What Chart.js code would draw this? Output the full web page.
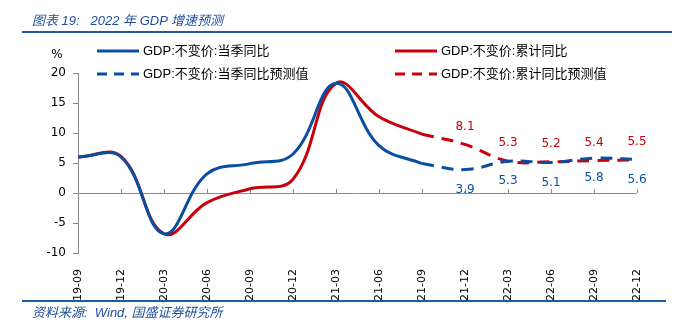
<!DOCTYPE html>
<html>
<head>
<meta charset="utf-8">
<script src="https://cdn.jsdelivr.net/npm/chart.js@4/dist/chart.umd.min.js"></script>
<style>
  html, body { margin: 0; padding: 0; background: #fff; }
  #wrap { position: relative; width: 678px; height: 330px; }
  #myChart { position: absolute; left: 0; top: 0; }
  .cap { position: absolute; color: #1f4e9a; font-style: italic; font-family: "Liberation Sans", "Noto Sans CJK SC", sans-serif; white-space: pre; }
  #title { left: 32px; top: 10px; font-size: 13px; }
  #src { left: 32px; top: 302px; font-size: 13px; }
  .rule { position: absolute; left: 22px; height: 2px; background: #1f5aa6; }
</style>
</head>
<body>
<div id="wrap">
  <canvas id="myChart" width="678" height="330"></canvas>
  <div id="title" class="cap">图表 19:   2022 年 GDP 增速预测</div>
  <div class="rule" style="top:31px; width:650px;"></div>
  <div class="rule" style="top:300px; width:644px;"></div>
  <div id="src" class="cap">资料来源:  Wind, 国盛证券研究所</div>
</div>
<script>
const ctx = document.getElementById('myChart');

// quarters
const labels = ['19-09', '19-12', '20-03', '20-06', '20-09', '20-12', '21-03',
  '21-06', '21-09', '21-12', '22-03', '22-06', '22-09', '22-12'];

// actual values (to 21-09)
const quarterly = [6.0, 6.0, -6.8, 3.2, 4.9, 6.5, 18.3, 7.9, 4.9];
const cumulative = [6.0, 6.1, -6.8, -1.6, 0.7, 2.3, 18.3, 12.7, 9.8];

// forecasts (21-12 .. 22-12), joined to the last actual
const quarterlyFc = [3.9, 5.3, 5.1, 5.8, 5.6];
const cumulativeFc = [8.1, 5.3, 5.2, 5.4, 5.5];

const yTicks = [-10, -5, 0, 5, 10, 15, 20];

const BLUE = '#0a4ea2';
const RED = '#c8000a';
const GREY = '#8c8c8c';
const FONT = '"DejaVu Sans", sans-serif';
const LEGEND_FONT = '"Liberation Sans", "Noto Sans CJK SC", sans-serif';

const split = quarterly.length - 1;
const pad = (arr, n) => arr.concat(Array(n).fill(null));
const lead = (arr, last) => Array(split).fill(null).concat([last], arr);

// axis line at zero with small upward ticks, plus the % unit
const axisDecor = {
  id: 'axisDecor',
  beforeDatasetsDraw(chart) {
    const { ctx, scales: { x, y } } = chart;
    const y0 = y.getPixelForValue(0);
    ctx.save();
    ctx.strokeStyle = GREY;
    ctx.lineWidth = 1;
    ctx.beginPath();
    ctx.moveTo(x.left, Math.round(y0) + 0.5);
    ctx.lineTo(x.right, Math.round(y0) + 0.5);
    labels.forEach((_, i) => {
      if (i === 0) return;
      const px = Math.round(x.getPixelForValue(i)) + 0.5;
      ctx.moveTo(px, y0);
      ctx.lineTo(px, y0 - 4);
    });
    ctx.stroke();
    ctx.fillStyle = '#000';
    ctx.font = '12px ' + FONT;
    ctx.textAlign = 'center';
    ctx.textBaseline = 'middle';
    ctx.fillText('%', 57, 55);
    ctx.restore();
  }
};

// value labels on the forecast points
const valueLabels = {
  id: 'valueLabels',
  afterDatasetsDraw(chart) {
    const { ctx } = chart;
    ctx.save();
    ctx.font = '12px ' + FONT;
    ctx.textAlign = 'center';
    ctx.textBaseline = 'middle';
    [[2, quarterlyFc, 20], [3, cumulativeFc, -18]].forEach(([di, vals, dy]) => {
      const meta = chart.getDatasetMeta(di);
      ctx.fillStyle = chart.data.datasets[di].borderColor;
      vals.forEach((v, i) => {
        const pt = meta.data[split + 1 + i];
        ctx.fillText(v.toFixed(1), pt.x, pt.y + dy);
      });
    });
    ctx.restore();
  }
};

// two-column legend at the top
const topLegend = {
  id: 'topLegend',
  afterDraw(chart) {
    const { ctx } = chart;
    const spots = [[97, 51], [395, 51], [97, 74], [395, 74]];
    ctx.save();
    ctx.font = '13px ' + LEGEND_FONT;
    ctx.textBaseline = 'middle';
    chart.data.datasets.forEach((ds, k) => {
      const [lx, ly] = spots[k];
      ctx.strokeStyle = ds.borderColor;
      ctx.lineWidth = 3;
      ctx.setLineDash(ds.borderDash ? [10, 7] : []);
      ctx.beginPath();
      ctx.moveTo(lx, ly);
      ctx.lineTo(lx + 42, ly);
      ctx.stroke();
      ctx.fillStyle = '#000';
      ctx.fillText(ds.label, lx + 46, ly);
    });
    ctx.restore();
  }
};

new Chart(ctx, {
  type: 'line',
  data: {
    labels: labels,
    datasets: [
      { label: 'GDP:不变价:当季同比', data: pad(quarterly, quarterlyFc.length), borderColor: BLUE },
      { label: 'GDP:不变价:累计同比', data: pad(cumulative, cumulativeFc.length), borderColor: RED },
      { label: 'GDP:不变价:当季同比预测值', data: lead(quarterlyFc, quarterly[split]), borderColor: BLUE, borderDash: [12, 8] },
      { label: 'GDP:不变价:累计同比预测值', data: lead(cumulativeFc, cumulative[split]), borderColor: RED, borderDash: [12, 8] }
    ]
  },
  options: {
    responsive: false,
    animation: false,
    layout: { padding: { left: 0, right: 41, top: 73, bottom: 27 } },
    elements: {
      line: { borderWidth: 3, tension: 0.4, fill: false },
      point: { radius: 0 }
    },
    plugins: { legend: { display: false }, tooltip: { enabled: false } },
    scales: {
      x: {
        grid: { display: false },
        border: { display: false },
        ticks: {
          autoSkip: false, minRotation: 90, maxRotation: 90, padding: 8,
          color: '#000', font: { family: FONT, size: 11 }
        },
        afterFit(scale) { scale.height = 50; }
      },
      y: {
        min: -10, max: 20,
        afterBuildTicks(scale) { scale.ticks = yTicks.map(v => ({ value: v })); },
        grid: { drawOnChartArea: false, tickLength: 5, color: GREY },
        border: { display: true, color: GREY, width: 1 },
        ticks: { padding: 7, color: '#000', font: { family: FONT, size: 12 } },
        afterFit(scale) { scale.width = 78; }
      }
    }
  },
  plugins: [axisDecor, valueLabels, topLegend]
});
</script>
</body>
</html>
